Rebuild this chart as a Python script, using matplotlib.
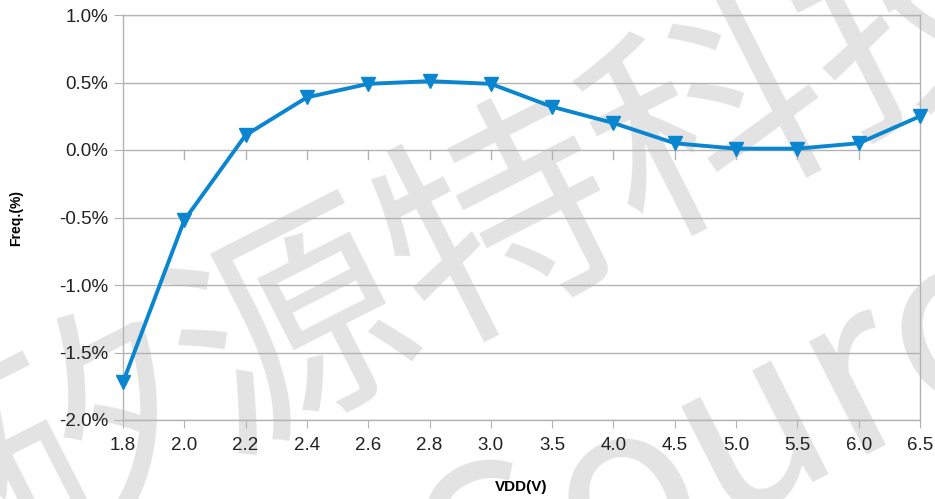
import numpy as np
import matplotlib.pyplot as plt
from matplotlib.ticker import FuncFormatter

# Data
vdd_labels = ['1.8', '2.0', '2.2', '2.4', '2.6', '2.8', '3.0', '3.5', '4.0', '4.5', '5.0', '5.5', '6.0', '6.5']
freq_pct = [-1.72, -0.52, 0.11, 0.39, 0.49, 0.51, 0.49, 0.32, 0.20, 0.05, 0.01, 0.01, 0.05, 0.25]
y_ticks = [-2.0, -1.5, -1.0, -0.5, 0.0, 0.5, 1.0]

plt.rcParams['font.family'] = ['Liberation Sans', 'DejaVu Sans']

fig = plt.figure(figsize=(9.35, 4.99), dpi=100)
ax = fig.add_axes([123 / 935, 1 - 420 / 499, (920 - 123) / 935, (420 - 15) / 499])

x = np.arange(len(vdd_labels))
ax.plot(x, freq_pct, color='#0a85d0', lw=2.8, marker='v', ms=10, zorder=4, clip_on=False)

ax.set_xlim(0, len(vdd_labels) - 1)
ax.set_ylim(-2.0, 1.0)
ax.set_yticks(y_ticks)
ax.yaxis.set_major_formatter(FuncFormatter(lambda v, p: f'{v:.1f}%'))
ax.set_xticks(x)
ax.set_xticklabels(vdd_labels)
ax.grid(axis='y', color='#b3b3b3', lw=1)

for s in ax.spines.values():
    s.set_color('#b3b3b3')
    s.set_linewidth(1)

ax.tick_params(axis='both', colors='#b3b3b3', labelcolor='#222222', labelsize=13.5)
ax.tick_params(axis='y', length=6.5, pad=4)
ax.tick_params(axis='x', length=6, pad=6)

# small tick marks hanging under the 0% line
for xi in x[1:-1]:
    ax.plot([xi, xi], [0, -0.07], color='#b3b3b3', lw=1, zorder=1.2)

ax.set_xlabel('VDD(V)', fontsize=11, fontweight='bold', labelpad=19)
ax.set_ylabel('Freq.(%)', fontsize=10, fontweight='bold', labelpad=26)

# watermark
wm = dict(transform=fig.transFigure, color='#dedede', alpha=0.85, rotation=27,
          rotation_mode='anchor', family=['Noto Sans CJK SC', 'DejaVu Sans'],
          clip_on=False, zorder=0.3, ha='center', va='center', fontsize=168)
ax.text(505 / 935, 1 - 232 / 499, '矽源特科技', **wm)
ax.text(780 / 935, 1 - 418 / 499, 'Source', **wm)

fig.savefig('out.png', dpi=100)
